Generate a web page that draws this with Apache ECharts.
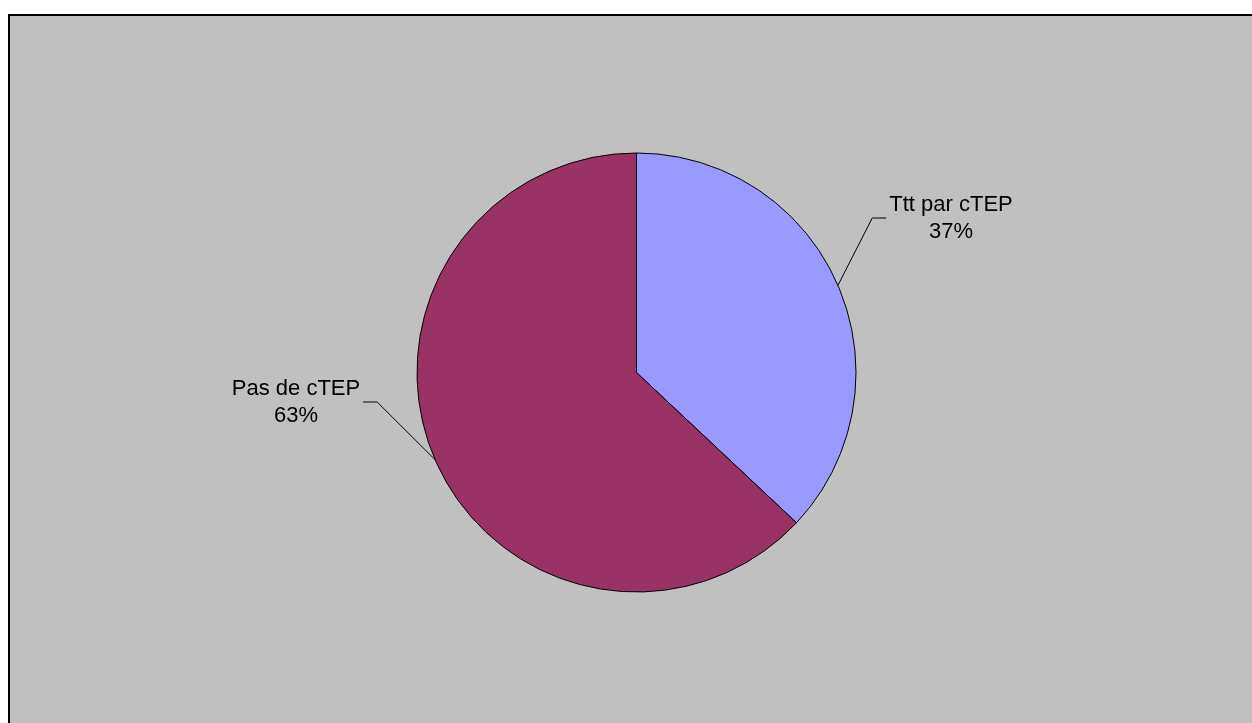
<!DOCTYPE html>
<html>
<head>
<meta charset="utf-8">
<script src="https://cdn.jsdelivr.net/npm/echarts@6/dist/echarts.min.js"></script>
<style>
html,body{margin:0;padding:0;background:#fff;}
#chart{width:1252px;height:723px;}
</style>
</head>
<body>
<div id="chart"></div>
<script>
const categories = ['Ttt par cTEP', 'Pas de cTEP'];
const values = [37, 63];
const colors = ['#9999FF', '#993366'];

const chart = echarts.init(document.getElementById('chart'), null, {renderer: 'canvas'});

// label anchor positions (layout only)
const labelAnchors = [
  {x: 951, y: 218, side: 'right'},
  {x: 296, y: 402, side: 'left'}
];

const option = {
  animation: false,
  backgroundColor: '#fff',
  graphic: [{
    type: 'rect',
    z: -10,
    shape: {x: 9, y: 15, width: 1260, height: 720},
    style: {fill: '#C0C0C0', stroke: '#000', lineWidth: 2}
  }],
  series: [{
    type: 'pie',
    center: [636.5, 372.5],
    radius: [0, 219.5],
    startAngle: 90,
    clockwise: true,
    data: categories.map((c, i) => ({
      name: c,
      value: values[i],
      itemStyle: {color: colors[i]}
    })),
    itemStyle: {borderColor: '#000', borderWidth: 1},
    label: {
      show: true,
      position: 'outside',
      formatter: '{b}\n{d}%',
      fontFamily: '"Liberation Sans", Arial, sans-serif',
      fontSize: 22,
      lineHeight: 27,
      color: '#000',
      align: 'center'
    },
    labelLine: {
      show: true,
      length: 20,
      length2: 15,
      lineStyle: {color: '#000', width: 1}
    },
    emphasis: {disabled: true},
    labelLayout: function (params) {
      const a = labelAnchors[params.dataIndex];
      const w = params.labelRect.width;
      const start = params.labelLinePoints ? params.labelLinePoints[0] : null;
      const res = {x: a.x, y: a.y, align: 'center', verticalAlign: 'middle'};
      if (start) {
        if (a.side === 'right') {
          const endX = a.x - w / 2 - 3;
          res.labelLinePoints = [start, [endX - 14, a.y], [endX, a.y]];
        } else {
          const endX = a.x + w / 2 + 3;
          res.labelLinePoints = [start, [endX + 14, a.y], [endX, a.y]];
        }
      }
      return res;
    }
  }]
};
chart.setOption(option);
</script>
</body>
</html>
